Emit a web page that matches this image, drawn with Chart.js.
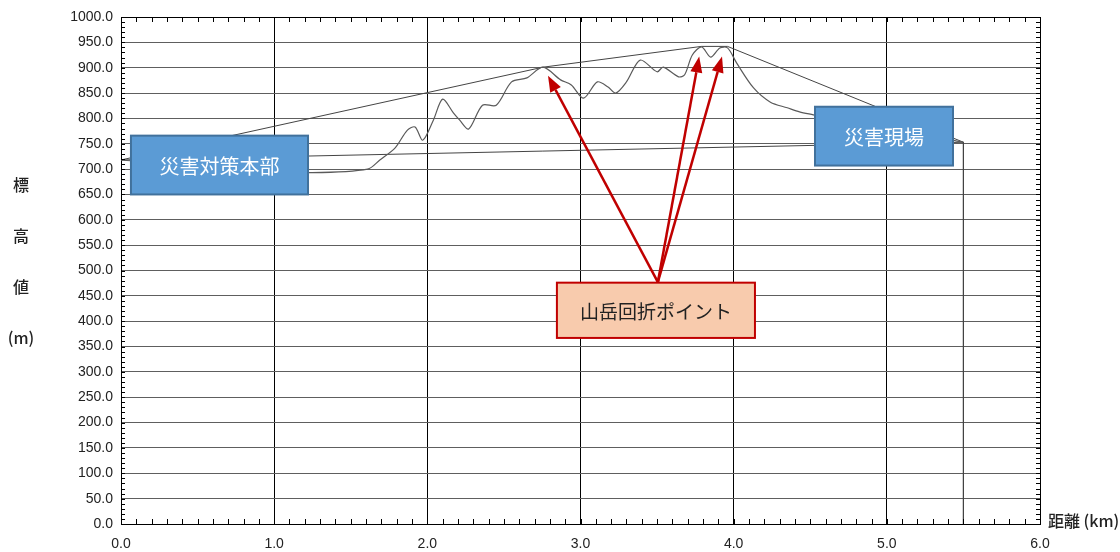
<!DOCTYPE html>
<html>
<head>
<meta charset="utf-8">
<script src="https://cdn.jsdelivr.net/npm/chart.js@4.4.0/dist/chart.umd.min.js"></script>
<style>
  body { margin: 0; background: #fff; }
</style>
</head>
<body>
<canvas id="myChart" width="1120" height="552"></canvas>
<script>
// terrain profile: distance (km) / elevation (m)
var distKm = [0, 0.3, 0.6, 0.9, 1.25, 1.61, 1.69, 1.79, 1.87, 1.92, 1.97, 2.04, 2.10, 2.17, 2.21, 2.27,
  2.36, 2.45, 2.55, 2.65, 2.755, 2.87, 2.94, 3.02, 3.11, 3.18, 3.23, 3.30, 3.39, 3.50, 3.54, 3.64,
  3.68, 3.73, 3.79, 3.85, 3.91, 3.96, 4.02, 4.13, 4.24, 4.35, 4.43, 4.52, 4.7, 4.9, 5.1, 5.3, 5.5];
var elevM = [718, 712, 704, 697, 693, 700, 718, 742, 777, 783, 757, 797, 838, 811, 797, 779,
  826, 826, 872, 880, 901, 876, 866, 840, 872, 862, 850, 872, 915, 892, 901, 882,
  886, 925, 941, 921, 939, 939, 909, 860, 832, 821, 813, 807, 795, 785, 775, 765, 753];

// straight line HQ -> site
var directX = [0, 5.5];
var directY = [718, 753];

// line over the diffraction points
var ridgeX = [0, 2.755, 3.79, 3.96, 5.5];
var ridgeY = [718, 901, 942, 942, 753];

// end of profile drops to the axis
var dropX = [5.5, 5.5];
var dropY = [753, 0];

var boxLabels = ['災害対策本部', '災害現場', '山岳回折ポイント'];
var yTitleChars = ['標', '高', '値', '(m)'];
var xTitle = '距離 (km)';

function toPts(xs, ys) {
  return xs.map(function (x, i) { return { x: x, y: ys[i] }; });
}

// boxes + arrows, placed in data units (km / m)
var notes = {
  hq:   { x0: 0.065, x1: 1.221, y0: 766, y1: 650 },
  site: { x0: 4.531, x1: 5.432, y0: 823, y1: 707 },
  pt:   { x0: 2.846, x1: 4.139, y0: 476, y1: 367 },
  from: { x: 3.505, y: 477 },
  tips: [{ x: 2.788, y: 884 }, { x: 3.775, y: 922 }, { x: 3.924, y: 922 }]
};

var extras = {
  id: 'extras',
  afterDatasetsDraw: function (chart) {
    var ctx = chart.ctx, xs = chart.scales.x, ys = chart.scales.y, a = chart.chartArea;
    ctx.save();

    // minor ticks inside the frame
    ctx.strokeStyle = '#000';
    ctx.lineWidth = 1;
    ctx.beginPath();
    for (var i = 1; i < 60; i++) {
      var px = Math.round(xs.getPixelForValue(i / 10)) + 0.5;
      ctx.moveTo(px, a.top); ctx.lineTo(px, a.top + 5);
      ctx.moveTo(px, a.bottom); ctx.lineTo(px, a.bottom - 5);
    }
    for (var j = 1; j < 100; j++) {
      var py = Math.round(ys.getPixelForValue(j * 10)) + 0.5;
      ctx.moveTo(a.left, py); ctx.lineTo(a.left + 4, py);
      ctx.moveTo(a.right, py); ctx.lineTo(a.right - 4, py);
    }
    ctx.stroke();

    function box(b, fill, stroke, text, color, size) {
      var l = xs.getPixelForValue(b.x0), r = xs.getPixelForValue(b.x1);
      var t = ys.getPixelForValue(b.y0), btm = ys.getPixelForValue(b.y1);
      ctx.fillStyle = fill;
      ctx.fillRect(l, t, r - l, btm - t);
      ctx.lineWidth = 2;
      ctx.strokeStyle = stroke;
      ctx.strokeRect(l, t, r - l, btm - t);
      ctx.fillStyle = color;
      ctx.font = size + 'px "Noto Sans CJK JP"';
      ctx.textAlign = 'center';
      ctx.textBaseline = 'middle';
      ctx.fillText(text, (l + r) / 2, (t + btm) / 2 + 1);
    }

    function arrow(p0, p1) {
      var x0 = xs.getPixelForValue(p0.x), y0 = ys.getPixelForValue(p0.y);
      var x1 = xs.getPixelForValue(p1.x), y1 = ys.getPixelForValue(p1.y);
      var ang = Math.atan2(y1 - y0, x1 - x0), len = 16, hw = 6;
      var bx = x1 - len * Math.cos(ang), by = y1 - len * Math.sin(ang);
      ctx.strokeStyle = '#C00000';
      ctx.fillStyle = '#C00000';
      ctx.lineWidth = 2.5;
      ctx.beginPath();
      ctx.moveTo(x0, y0); ctx.lineTo(bx, by);
      ctx.stroke();
      ctx.beginPath();
      ctx.moveTo(x1, y1);
      ctx.lineTo(bx + hw * Math.sin(ang), by - hw * Math.cos(ang));
      ctx.lineTo(bx - hw * Math.sin(ang), by + hw * Math.cos(ang));
      ctx.closePath();
      ctx.fill();
    }

    box(notes.hq, '#5B9BD5', '#41719C', boxLabels[0], '#fff', 20);
    box(notes.site, '#5B9BD5', '#41719C', boxLabels[1], '#fff', 20);
    notes.tips.forEach(function (t) { arrow(notes.from, t); });
    box(notes.pt, '#F8CBAD', '#C00000', boxLabels[2], '#222', 19);

    // axis titles
    ctx.fillStyle = '#222';
    ctx.font = '500 16px "Noto Sans CJK JP"';
    ctx.textAlign = 'center';
    ctx.textBaseline = 'middle';
    var ty = [185, 236, 287, 338];
    yTitleChars.forEach(function (c, k) { ctx.fillText(c, 21, ty[k]); });
    ctx.textAlign = 'left';
    ctx.fillText(xTitle, 1048, 521);
    ctx.restore();
  }
};

var data = {
  datasets: [{
    label: 'profile',
    data: toPts(distKm, elevM),
    borderColor: '#5a5a5a',
    borderWidth: 1.2,
    tension: 0.3,
    pointRadius: 0
  }, {
    label: 'drop',
    data: toPts(dropX, dropY),
    borderColor: '#444',
    borderWidth: 1,
    pointRadius: 0
  }, {
    label: 'direct',
    data: toPts(directX, directY),
    borderColor: '#444',
    borderWidth: 1,
    pointRadius: 0
  }, {
    label: 'ridge',
    data: toPts(ridgeX, ridgeY),
    borderColor: '#444',
    borderWidth: 1,
    pointRadius: 0
  }]
};

var config = {
  type: 'line',
  data: data,
  options: {
    responsive: false,
    animation: false,
    devicePixelRatio: 1,
    layout: { padding: { left: 0, right: 80, top: 17, bottom: 0 } },
    plugins: { legend: { display: false }, tooltip: { enabled: false } },
    scales: {
      x: {
        type: 'linear', min: 0, max: 6,
        ticks: {
          stepSize: 1, padding: 12, color: '#222',
          font: { family: '"Liberation Sans", Arial', size: 14 },
          callback: function (v) { return v.toFixed(1); }
        },
        grid: { color: '#000', lineWidth: 1, drawTicks: false },
        border: { color: '#000' },
        afterFit: function (s) { s.height = 28; }
      },
      y: {
        min: 0, max: 1000,
        ticks: {
          stepSize: 50, padding: 8, color: '#222',
          font: { family: '"Liberation Sans", Arial', size: 14 },
          callback: function (v) { return v.toFixed(1); }
        },
        grid: {
          color: function (c) { return (c.tick && (c.tick.value === 0 || c.tick.value === 1000)) ? '#000' : '#5e5e5e'; },
          lineWidth: 1, drawTicks: false
        },
        border: { color: '#000' },
        afterFit: function (s) { s.width = 121; }
      }
    }
  },
  plugins: [extras]
};

var myChart = new Chart(document.getElementById('myChart'), config);
</script>
</body>
</html>
